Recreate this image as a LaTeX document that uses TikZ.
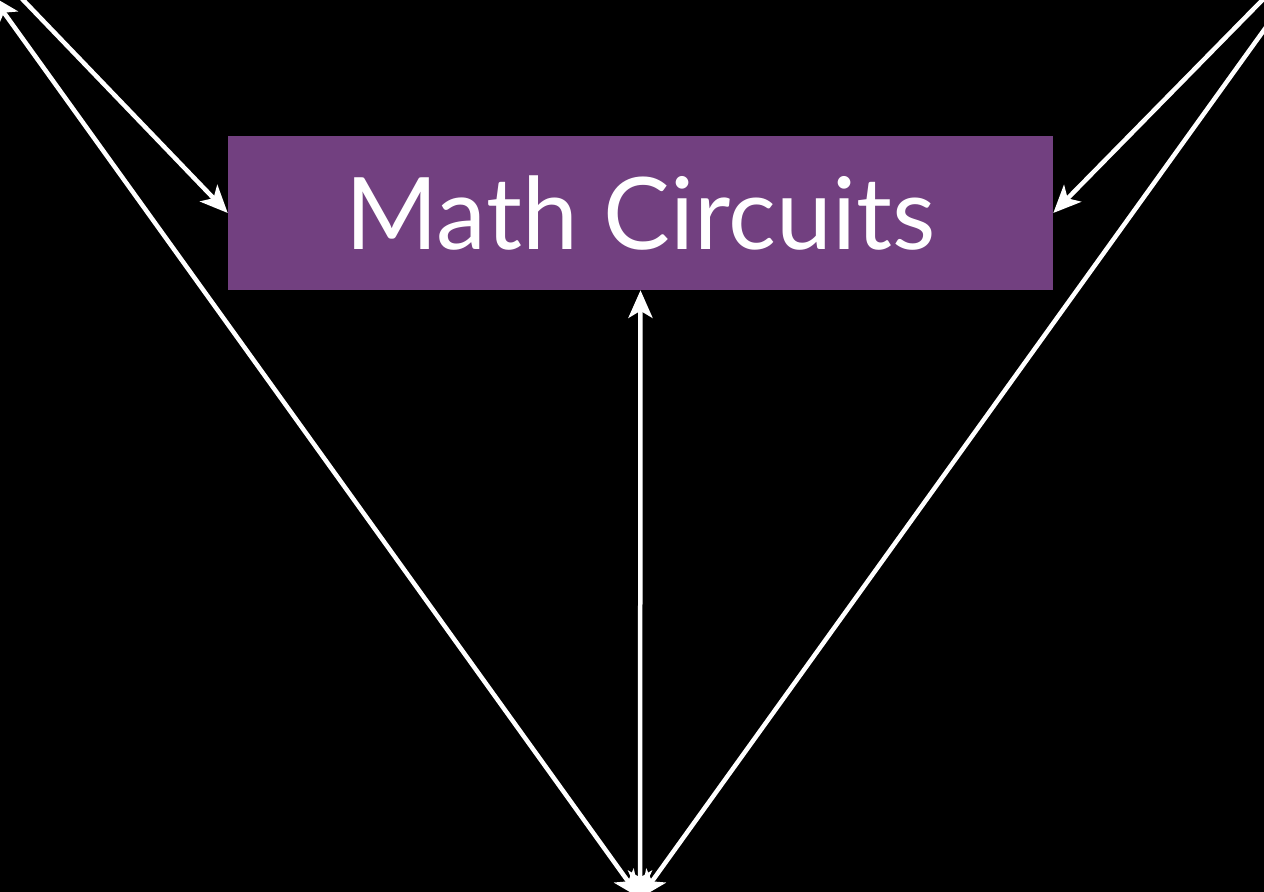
\documentclass[tikz,border=0pt]{standalone}
\usepackage{fontspec}
\setmainfont{Lato}
\usetikzlibrary{arrows.meta}

\definecolor{circpurple}{RGB}{114,64,128}

\tikzset{
    mathbox/.style={fill=circpurple, text=white, inner sep=0pt,
        minimum width=16.5cm, minimum height=3.08cm,
        font=\fontsize{57}{60}\selectfont},
    link/.style={white, line width=0.09cm},
    >={Stealth[length=0.55cm, width=0.48cm, inset=0.14cm]}
}

\begin{document}
\begin{tikzpicture}[x=0.02cm, y=-0.02cm]
    % Frame (1264 x 892 px)
    \useasboundingbox (0,0) rectangle (1264,892);
    \fill[black] (0,0) rectangle (1264,892);
    \clip (0,0) rectangle (1264,892);

    % Central box
    \node[mathbox] (circ) at (640.5,213) {Math Circuits};

    % Ends that lie outside the frame
    \coordinate (tl) at (3,-21);
    \coordinate (tlb) at (-8,-4);
    \coordinate (tr) at (1283,-21);
    \coordinate (trb) at (1300,-20);
    \coordinate (base) at (640,898);

    % Arrows into the box
    \draw[link, ->] (tl) -- (circ.west);
    \draw[link, ->] (tr) -- (circ.east);
    \draw[link, <->] (base) -- (circ.south);

    % Long diagonals
    \draw[link, <->] (tlb) -- (base);
    \draw[link, <->] (trb) -- (base);
\end{tikzpicture}
\end{document}
